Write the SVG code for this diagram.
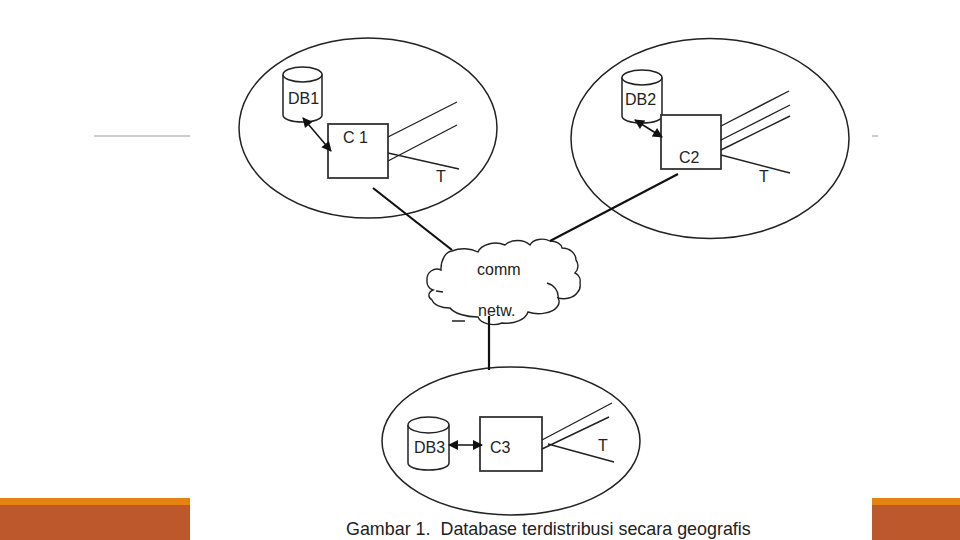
<svg xmlns="http://www.w3.org/2000/svg" width="960" height="540" viewBox="0 0 960 540">
<style>
text{font-family:"Liberation Sans",Arial,sans-serif;font-size:16px;fill:#222;white-space:pre}
.o{fill:none;stroke:#222;stroke-width:1.5}
.l{fill:none;stroke:#222;stroke-width:1.4}
.h{fill:none;stroke:#111;stroke-width:2.2}
.b{fill:#fff;stroke:#333;stroke-width:1.8}
.d{fill:#fff;stroke:#222;stroke-width:1.5}
.a{fill:none;stroke:#111;stroke-width:1.5;marker-start:url(#ah);marker-end:url(#ah)}
</style>
<defs>
<marker id="ah" viewBox="0 0 10 10" refX="9" refY="5" markerWidth="12" markerHeight="10" markerUnits="userSpaceOnUse" orient="auto-start-reverse"><path d="M0 0L10 5L0 10Z" fill="#111"/></marker>
</defs>
<rect width="960" height="540" fill="#fff"/>
<g id="background">
<path d="M94 136H190M872 136H878" stroke="#999" stroke-width="1" fill="none"/>
<rect x="0" y="498" width="190" height="7" fill="#E48312"/>
<rect x="0" y="505" width="190" height="35" fill="#BD582C"/>
<rect x="872" y="498" width="88" height="7" fill="#E48312"/>
<rect x="872" y="505" width="88" height="35" fill="#BD582C"/>
</g>
<g id="site1"><ellipse class="o" cx="368" cy="128" rx="129" ry="90"/></g>
<g id="site2"><ellipse class="o" cx="710" cy="138.500" rx="139" ry="100"/></g>
<g id="site3"><ellipse class="o" cx="511" cy="441" rx="129" ry="74"/></g>
<g id="db1"><path class="d" d="M283 74.500V115C283 119 291 122 302.500 122S322 119 322 115V74.500"/><ellipse class="d" cx="302.500" cy="74.500" rx="19.500" ry="7.500"/><text x="288" y="104">DB1</text></g>
<g id="db2"><path class="d" d="M622 77.500V116C622 120 630 123 642 123S662 120 662 116V77.500"/><ellipse class="d" cx="642" cy="77.500" rx="20" ry="7.500"/><text x="625" y="105">DB2</text></g>
<g id="db3"><path class="d" d="M408 425V463C408 467 416 470 428.500 470S449 467 449 463V425"/><ellipse class="d" cx="428.500" cy="425" rx="20.500" ry="8"/><text x="414" y="453">DB3</text></g>
<g id="c1"><rect class="b" x="328" y="124" width="60" height="54"/><text x="343" y="143">C 1</text></g>
<g id="c2"><rect class="b" x="661" y="115" width="60" height="54"/><text x="679" y="163">C2</text></g>
<g id="c3"><rect class="b" x="480" y="417" width="62" height="54"/><text x="490" y="453">C3</text></g>
<g id="cloud">
<path fill="#fff" stroke="#222" stroke-width="1.4" d="M452 251A22 14 0 0 1 478 252A18 12 0 0 1 505 245A15 10 0 0 1 530 245A13 9 0 0 1 550 241A12 8 0 0 1 562 248A14 12 0 0 1 576 260A10 10 0 0 1 575 273A9 9 0 0 1 580 283A8 10 0 0 1 577 293A15 10 0 0 1 558 298A14 10 0 0 1 557 307A20 11 0 0 1 528 312A22 14 0 0 1 502 323A16 10 0 0 1 478 317A30 14 0 0 1 450 308A18 10 0 0 1 432 300A8 6 0 0 1 433 290A8 9 0 0 1 427 280A10 10 0 0 1 441 270A12 18 0 0 1 452 251Z"/>
<path class="l" d="M547 283C554 285 559 291 558 298M436 291L443 292M452 321H465"/>
<text x="477" y="275">comm</text>
<text x="478" y="316">netw.</text>
</g>
<g id="connectors">
<path class="h" d="M373 188L452 250M678 174L550 241M489 316V370"/>
<path class="a" d="M303 118L331 151"/>
<path class="a" d="M635 120L662 137"/>
<path class="a" d="M449 445H482"/>
<path class="l" d="M388 137L457 102M388 161L457 125M388 153L459 169"/>
<path class="l" d="M721 126L789 91M721 140L790 105M721 150L790 116M721 155L790 173"/>
<path class="l" d="M542 440L612 403M542 449L609 417M548 444L614 462"/>
</g>
<g id="t-labels"><text x="436" y="182">T</text><text x="759" y="182">T</text><text x="598" y="451">T</text></g>
<text id="caption" x="346" y="535" style="font-size:17.900px">Gambar 1.  Database terdistribusi secara geografis</text>
</svg>
